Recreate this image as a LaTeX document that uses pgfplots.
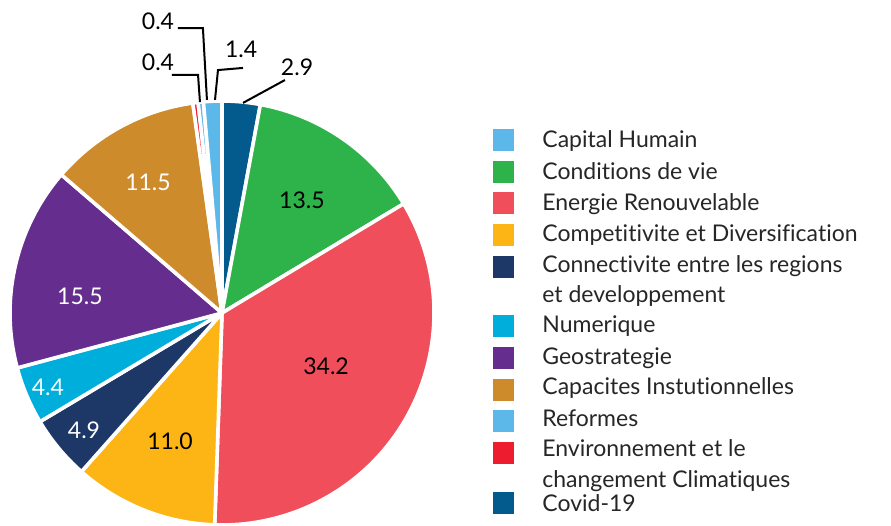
\documentclass[border=0pt]{standalone}
\usepackage{fontspec}
\setmainfont{Lato}[Ligatures=NoCommon]
\usepackage{pgfplots}
\pgfplotsset{compat=1.18}

\definecolor{cCovid}{HTML}{035A8C}
\definecolor{cCond}{HTML}{2DB34A}
\definecolor{cEner}{HTML}{F04E5A}
\definecolor{cComp}{HTML}{FDB515}
\definecolor{cConn}{HTML}{1D3767}
\definecolor{cNum}{HTML}{00AEDB}
\definecolor{cGeo}{HTML}{652D8E}
\definecolor{cCap}{HTML}{CD8B2C}
\definecolor{cEnv}{HTML}{ED1C2E}
\definecolor{cRef}{HTML}{5BB8E8}
\definecolor{cHum}{HTML}{5BB8E8}

\begin{document}
\begin{tikzpicture}[x=0.5pt,y=-0.5pt]
\useasboundingbox (0,0) rectangle (891,526);
\begin{axis}[
    at={(111pt,-156.5pt)}, anchor=origin,
    x=106pt, y=106pt,
    xmin=-1, xmax=1, ymin=-1, ymax=1,
    hide axis, clip=false,
]
% slices clockwise from 12 o'clock: value/colour
\def\total{100.1}
\def\cumul{0}
\foreach \v/\c in {2.9/cCovid, 13.5/cCond, 34.2/cEner, 11.0/cComp, 4.9/cConn,
                   4.4/cNum, 15.5/cGeo, 11.5/cCap, 0.4/cEnv, 0.4/cRef, 1.4/cHum} {
    \pgfmathsetmacro\a{90-\cumul/\total*360}
    \pgfmathsetmacro\b{90-(\cumul+\v)/\total*360}
    \edef\temp{\noexpand\fill[\c, draw=white, line width=1.8pt, line join=round]
        (axis cs:0,0) -- (axis cs:{cos(\a)},{sin(\a)})
        arc[start angle=\a, end angle=\b, radius=106pt] -- cycle;}
    \temp
    \pgfmathsetmacro\n{\cumul+\v}\xdef\cumul{\n}
}

% labels inside slices
\tikzset{inlab/.style={font=\fontsize{11.5}{13}\selectfont}}
\node[inlab, black] at (axis cs:0.377,0.533)   {13.5};
\node[inlab, black] at (axis cs:0.491,-0.250)  {34.2};
\node[inlab, black] at (axis cs:-0.245,-0.604) {11.0};
\node[inlab, white] at (axis cs:-0.651,-0.552) {4.9};
\node[inlab, white] at (axis cs:-0.821,-0.349) {4.4};
\node[inlab, white] at (axis cs:-0.670,0.080)  {15.5};
\node[inlab, white] at (axis cs:-0.349,0.618)  {11.5};

% outside labels with leader lines
\draw[black, line width=1pt] (axis cs:0.099,0.991) -- (axis cs:0.297,1.099);
\node[inlab] at (axis cs:0.354,1.160) {2.9};
\draw[black, line width=1pt] (axis cs:-0.033,1.005) -- (axis cs:-0.019,1.146) -- (axis cs:0.099,1.156);
\node[inlab] at (axis cs:0.090,1.245) {1.4};
\draw[black, line width=1pt] (axis cs:-0.104,0.995) -- (axis cs:-0.113,1.123) -- (axis cs:-0.236,1.123);
\node[inlab] at (axis cs:-0.302,1.184) {0.4};
\draw[black, line width=1pt] (axis cs:-0.071,1.005) -- (axis cs:-0.090,1.344) -- (axis cs:-0.208,1.344);
\node[inlab] at (axis cs:-0.302,1.377) {0.4};
\end{axis}

% legend
\tikzset{lt/.style={anchor=base west, inner sep=0pt, text=black!85, font=\fontsize{11.5}{13}\selectfont}}
\foreach \yc/\c in {140/cHum, 172/cCond, 203/cEner, 235/cComp, 267/cConn,
                    326/cNum, 358/cGeo, 390/cCap, 421/cRef, 453/cEnv, 503/cCovid}
    \fill[\c] (493,\yc-11) rectangle (514,\yc+11);
\node[lt] at (542,147) {Capital Humain};
\node[lt] at (542,179) {Conditions de vie};
\node[lt] at (542,210) {Energie Renouvelable};
\node[lt] at (542,241) {Competitivite et Diversification};
\node[lt] at (542,272) {Connectivite entre les regions};
\node[lt] at (542,302) {et developpement};
\node[lt] at (542,332) {Numerique};
\node[lt] at (542,364) {Geostrategie};
\node[lt] at (542,394) {Capacites Instutionnelles};
\node[lt] at (542,426) {Reformes};
\node[lt] at (542,456) {Environnement et le};
\node[lt] at (542,487) {changement Climatiques};
\node[lt] at (542,511) {Covid-19};
\end{tikzpicture}
\end{document}
